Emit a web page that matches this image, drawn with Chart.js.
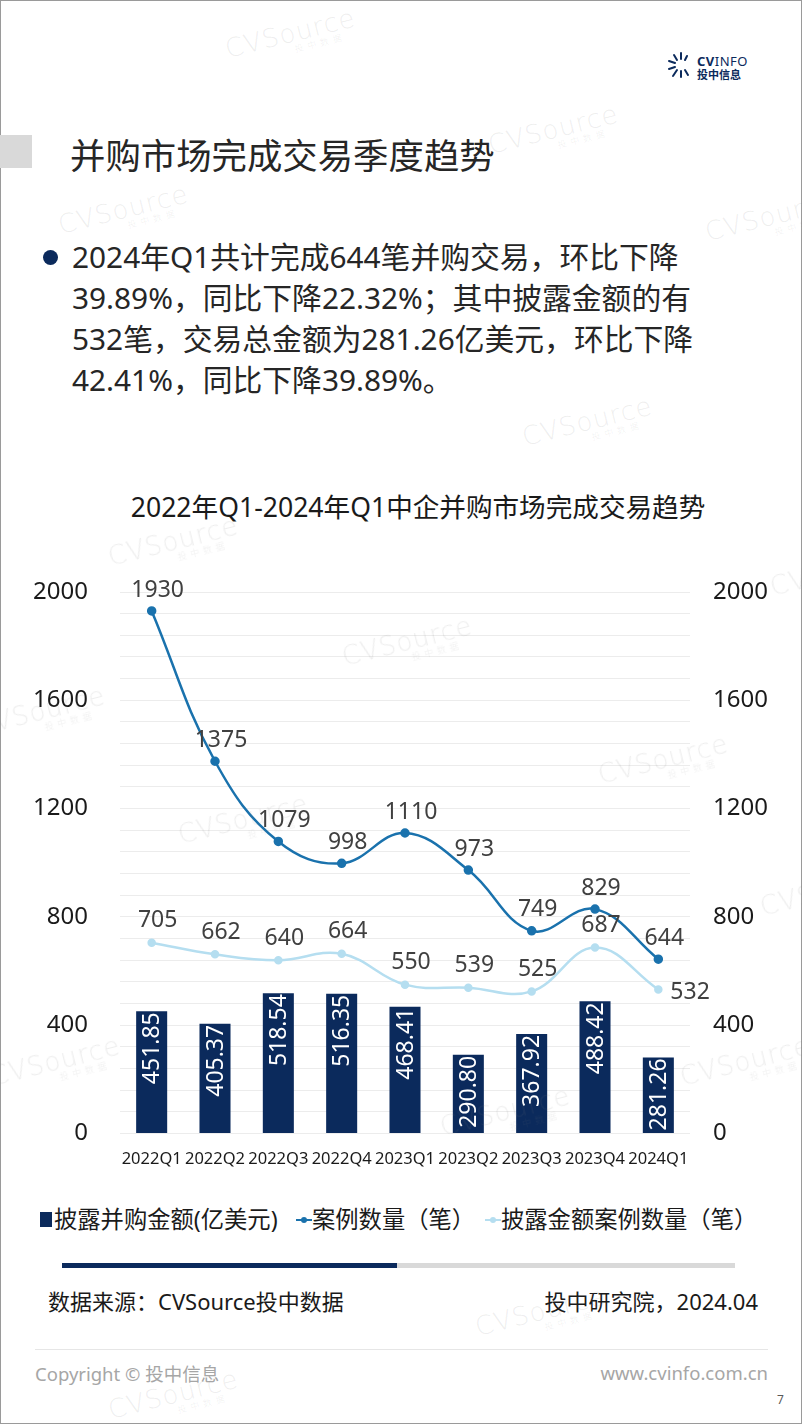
<!DOCTYPE html>
<html>
<head>
<meta charset="utf-8">
<script src="https://cdn.jsdelivr.net/npm/chart.js@4.4.0/dist/chart.umd.min.js"></script>
<style>
  html, body { margin: 0; padding: 0; }
  body {
    width: 802px; height: 1424px; position: relative; overflow: hidden; background: #fff;
    font-family: "Noto Sans", "Noto Sans CJK SC", sans-serif; color: #262626;
  }
  .frame { position: absolute; left: 0; top: 0; width: 800px; height: 1422px; border: 1px solid #9a9a9a; }
  .abs { position: absolute; white-space: nowrap; }
  .logo-en { left: 697px; top: 52px; font-size: 13px; color: #0b2a5c; letter-spacing: 0.5px; }
  .logo-cn { left: 697px; top: 66px; font-size: 11px; font-weight: bold; color: #0b2a5c; }
  .title-bar { left: 0; top: 135px; width: 32px; height: 33px; background: #d9d9d9; }
  .title { left: 70px; top: 133px; font-size: 35.4px; line-height: 44px; color: #262626; }
  .dot { left: 43px; top: 250px; width: 15px; height: 15px; border-radius: 50%; background: #0b2a5c; }
  .bullet { left: 72px; top: 236px; font-size: 29.8px; line-height: 41px; color: #262626; }
  .chart-title { left: 0; width: 836px; text-align: center; top: 486px; font-size: 26.6px; color: #1a1a1a; }
  #wrap { position: absolute; left: 0; top: 470px; width: 802px; height: 710px; }
  .legend { top: 1203px; font-size: 23.3px; line-height: 32px; color: #1a1a1a; }
  .sw { display: inline-block; vertical-align: middle; }
  .bar-navy { left: 62px; top: 1263px; width: 335px; height: 5px; background: #0b2a5c; }
  .bar-grey { left: 397px; top: 1263px; width: 338px; height: 5px; background: #d9d9d9; }
  .src { top: 1284px; font-size: 22px; color: #1a1a1a; }
  .rule { left: 35px; top: 1349px; width: 733px; height: 1px; background: #e6e6e6; }
  .foot { top: 1360px; font-size: 18.5px; color: #a6a6a6; }
  .wm { position: absolute; color: rgba(120,120,120,0.13); transform: rotate(-14deg); pointer-events: none;
        font-family: "DejaVu Sans", sans-serif; font-weight: 200; font-size: 26px; letter-spacing: 1px; line-height: 22px; }
  .wm span { display: block; font-size: 9px; text-align: right; letter-spacing: 4px; padding-right: 14px;
             font-family: "Noto Sans CJK SC", sans-serif; line-height: 12px; }
</style>
</head>
<body>
<div class="frame"></div>

<svg class="abs" style="left:668px;top:52px" width="26" height="26" viewBox="0 0 26 26">
  <g stroke="#0b2a5c" stroke-width="2" stroke-linecap="round">
    <line x1="13" y1="7" x2="13" y2="1"/>
    <line x1="9" y1="8" x2="6" y2="3"/>
    <line x1="7" y1="11" x2="1" y2="9"/>
    <line x1="7" y1="15" x2="1" y2="17"/>
    <line x1="9" y1="18" x2="5" y2="24"/>
    <line x1="13" y1="19" x2="13" y2="25"/>
    <line x1="17" y1="18" x2="20" y2="23"/>
    <line x1="17" y1="8" x2="19" y2="4"/>
  </g>
</svg>
<div class="abs logo-en"><b>CV</b>INFO</div>
<div class="abs logo-cn">投中信息</div>

<div class="abs title-bar"></div>
<div class="abs title">并购市场完成交易季度趋势</div>

<div class="abs dot"></div>
<div class="abs bullet">2024年Q1共计完成644笔并购交易，环比下降<br>39.89%，同比下降22.32%；其中披露金额的有<br>532笔，交易总金额为281.26亿美元，环比下降<br>42.41%，同比下降39.89%。</div>

<div class="abs chart-title">2022年Q1-2024年Q1中企并购市场完成交易趋势</div>

<div id="wrap"><canvas id="chart"></canvas></div>

<div class="abs legend" style="left:40px"><span class="sw" style="width:12px;height:15px;background:#0b2a5c;margin-right:2px;margin-top:-4px"></span>披露并购金额(亿美元)</div>
<div class="abs legend" style="left:296px"><svg class="sw" width="16" height="10" style="margin-top:-4px"><line x1="0" y1="5" x2="16" y2="5" stroke="#1a72ad" stroke-width="2"/><circle cx="8" cy="5" r="3" fill="#1a72ad"/></svg>案例数量（笔）</div>
<div class="abs legend" style="left:485px"><svg class="sw" width="16" height="10" style="margin-top:-4px"><line x1="0" y1="5" x2="16" y2="5" stroke="#b5def0" stroke-width="2"/><circle cx="8" cy="5" r="3" fill="#b5def0"/></svg>披露金额案例数量（笔）</div>

<div class="abs bar-navy"></div>
<div class="abs bar-grey"></div>
<div class="abs src" style="left:48px">数据来源：CVSource投中数据</div>
<div class="abs src" style="right:44px">投中研究院，2024.04</div>
<div class="abs rule"></div>
<div class="abs foot" style="left:35px">Copyright © 投中信息</div>
<div class="abs foot" style="right:34px">www.cvinfo.com.cn</div>
<div class="abs" style="left:777px;top:1391px;font-size:12px;color:#595959">7</div>

<script>
// Data
const quarters = ["2022Q1", "2022Q2", "2022Q3", "2022Q4", "2023Q1", "2023Q2", "2023Q3", "2023Q4", "2024Q1"];
const dealAmount = [451.85, 405.37, 518.54, 516.35, 468.41, 290.80, 367.92, 488.42, 281.26];
const dealCount = [1930, 1375, 1079, 998, 1110, 973, 749, 829, 644];
const disclosedCount = [705, 662, 640, 664, 550, 539, 525, 687, 532];
const axisLabels = [0, 400, 800, 1200, 1600, 2000];

// Watermarks
[[225, 22], [488, 118], [58, 198], [705, 205], [522, 410], [108, 530], [342, 630], [-25, 700],
 [598, 748], [178, 808], [770, 560], [-10, 1050], [680, 1050], [760, 880], [475, 1300], [108, 1383], [440, 1100]]
  .forEach(([x, y]) => {
    const d = document.createElement("div");
    d.className = "wm";
    d.style.left = x + "px";
    d.style.top = y + "px";
    d.innerHTML = "CVSource<span>投中数据</span>";
    document.body.appendChild(d);
  });

// Value labels
const valueLabels = {
  id: "valueLabels",
  afterDatasetsDraw(chart) {
    const ctx = chart.ctx;
    chart.data.datasets.forEach((ds, i) => {
      const meta = chart.getDatasetMeta(i);
      meta.data.forEach((el, j) => {
        const v = ds.data[j];
        ctx.save();
        if (ds.type === "bar") {
          ctx.font = "23px 'Noto Sans', sans-serif";
          ctx.fillStyle = "#ffffff";
          ctx.translate(el.x, el.y);
          ctx.rotate(-Math.PI / 2);
          ctx.textAlign = "right";
          ctx.textBaseline = "middle";
          ctx.fillText(v.toFixed(2), -1, 1);
        } else {
          ctx.font = "23px 'Noto Sans', sans-serif";
          ctx.fillStyle = "#404040";
          ctx.textBaseline = "middle";
          if (ds.lastLabelRight && j === ds.data.length - 1) {
            ctx.textAlign = "left";
            ctx.fillText(v, el.x + 12, el.y + 3);
          } else {
            ctx.textAlign = "center";
            ctx.fillText(v, el.x + 6, el.y - ds.labelGap);
          }
        }
        ctx.restore();
      });
    });
  },
};

const tickFont = { family: "'Noto Sans', sans-serif", size: 24 };
const yTicks = {
  stepSize: 80,
  maxTicksLimit: 40,
  autoSkip: false,
  color: "#1a1a1a",
  font: tickFont,
  callback: (v) => (axisLabels.includes(v) ? v : ""),
};

new Chart(document.getElementById("chart"), {
  data: {
    labels: quarters,
    datasets: [
      {
        type: "line",
        label: "案例数量（笔）",
        data: dealCount,
        yAxisID: "y1",
        borderColor: "#1a72ad",
        backgroundColor: "#1a72ad",
        borderWidth: 2.5,
        pointRadius: 3.5,
        tension: 0.4,
        labelGap: 21,
        order: 1,
      },
      {
        type: "line",
        label: "披露金额案例数量（笔）",
        data: disclosedCount,
        yAxisID: "y1",
        borderColor: "#b5def0",
        backgroundColor: "#b5def0",
        borderWidth: 2.5,
        pointRadius: 3,
        tension: 0.4,
        labelGap: 22,
        lastLabelRight: true,
        order: 2,
      },
      {
        type: "bar",
        label: "披露并购金额(亿美元)",
        data: dealAmount,
        yAxisID: "y",
        backgroundColor: "#0b2a5c",
        barPercentage: 0.49,
        categoryPercentage: 1,
        order: 3,
      },
    ],
  },
  plugins: [valueLabels],
  options: {
    responsive: true,
    maintainAspectRatio: false,
    animation: false,
    layout: { padding: { top: 122, left: 0, right: 0, bottom: 0 } },
    plugins: { legend: { display: false }, tooltip: { enabled: false } },
    scales: {
      x: {
        grid: { display: false, drawTicks: false },
        border: { display: false },
        ticks: { color: "#1a1a1a", font: { family: "'Noto Sans', sans-serif", size: 16.5 }, padding: 16, maxRotation: 0 },
        afterFit: (s) => { s.height = 46; },
      },
      y: {
        position: "left",
        min: 0,
        max: 2000,
        grid: { color: "#ececec", lineWidth: 1, drawTicks: false },
        border: { display: false },
        ticks: { ...yTicks, padding: 32 },
        afterFit: (s) => { s.width = 120; },
      },
      y1: {
        position: "right",
        min: 0,
        max: 2000,
        grid: { display: false, drawTicks: false },
        border: { display: false },
        ticks: { ...yTicks, padding: 23 },
        afterFit: (s) => { s.width = 112; },
      },
    },
  },
});
</script>
</body>
</html>
